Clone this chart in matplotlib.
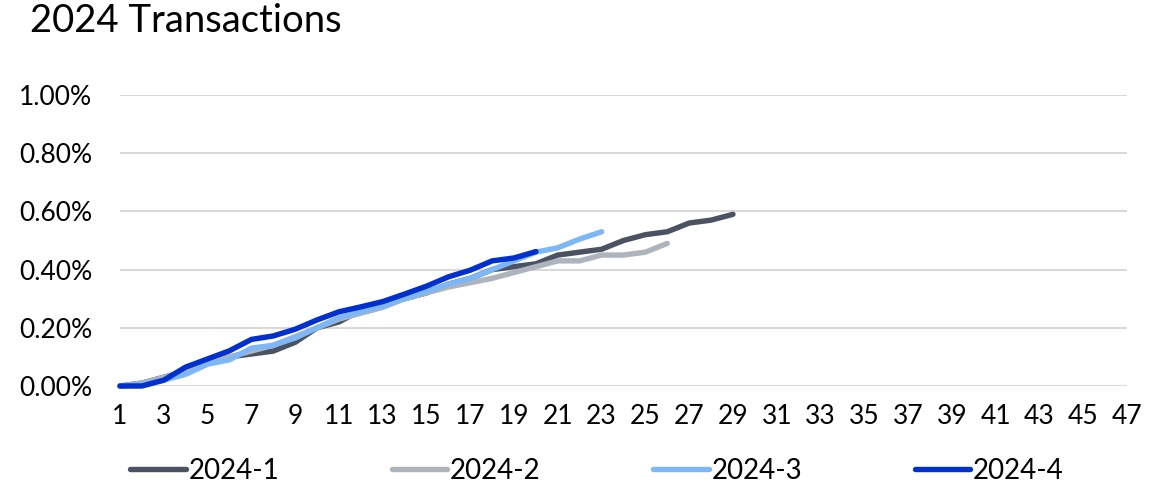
import matplotlib
matplotlib.use("Agg")
import matplotlib.pyplot as plt
from matplotlib.ticker import FuncFormatter

plt.rcParams['font.family'] = ['Lato', 'DejaVu Sans']

title = "2024 Transactions"
s1_name, s2_name, s3_name, s4_name = "2024-1", "2024-2", "2024-3", "2024-4"
s1 = [0, 0.01, 0.03, 0.05, 0.08, 0.10, 0.11, 0.12, 0.15, 0.20, 0.22, 0.26, 0.28, 0.30, 0.32,
      0.35, 0.37, 0.40, 0.41, 0.42, 0.45, 0.46, 0.47, 0.50, 0.52, 0.53, 0.56, 0.57, 0.59]
s2 = [0, 0.01, 0.03, 0.05, 0.08, 0.10, 0.12, 0.14, 0.17, 0.20, 0.23, 0.25, 0.27, 0.30, 0.32,
      0.34, 0.355, 0.37, 0.39, 0.41, 0.43, 0.43, 0.45, 0.45, 0.46, 0.49]
s3 = [0, 0.005, 0.02, 0.04, 0.075, 0.09, 0.13, 0.14, 0.165, 0.20, 0.235, 0.255, 0.275, 0.30, 0.325,
      0.35, 0.37, 0.40, 0.43, 0.46, 0.475, 0.505, 0.53]
s4 = [0, 0, 0.02, 0.065, 0.093, 0.121, 0.16, 0.172, 0.195, 0.227, 0.255, 0.272, 0.29, 0.316, 0.343,
      0.375, 0.398, 0.43, 0.44, 0.462]
x_ticks = list(range(1, 48, 2))

colors = ["#4b5262", "#aeb4be", "#7db7f7", "#0230cc"]

fig = plt.figure(figsize=(11.52, 4.86), dpi=100)
ax = fig.add_axes([120/1152, 100/486, 1007/1152, 291/486])

for data, name, c in zip([s1, s2, s3, s4], [s1_name, s2_name, s3_name, s4_name], colors):
    ax.plot(range(1, len(data) + 1), data, color=c, lw=3.9, label=name,
            solid_capstyle='round', solid_joinstyle='round', clip_on=False)

ax.set_xlim(1, 47)
ax.set_ylim(0, 1.0)
ax.set_yticks([0, 0.2, 0.4, 0.6, 0.8, 1.0])
ax.yaxis.set_major_formatter(FuncFormatter(lambda v, p: f"{v:.2f}%"))
ax.set_xticks(x_ticks)
ax.grid(axis='y', color='#d9d9d9', lw=1.5)
ax.set_axisbelow(True)
for sp in ax.spines.values():
    sp.set_visible(False)
ax.tick_params(axis='both', length=0, labelsize=19, colors='#000000')
ax.tick_params(axis='y', pad=20)
ax.tick_params(axis='x', pad=13)

fig.text(30/1152, 1 - 21/486, title, fontsize=27.5, va='center', ha='left')

fig.legend(loc='center', bbox_to_anchor=(597/1152, 1 - 471/486), ncol=4, frameon=False,
           fontsize=20, handlelength=2.0, handletextpad=0.1, columnspacing=4.05)

fig.savefig("out.png", dpi=100)
